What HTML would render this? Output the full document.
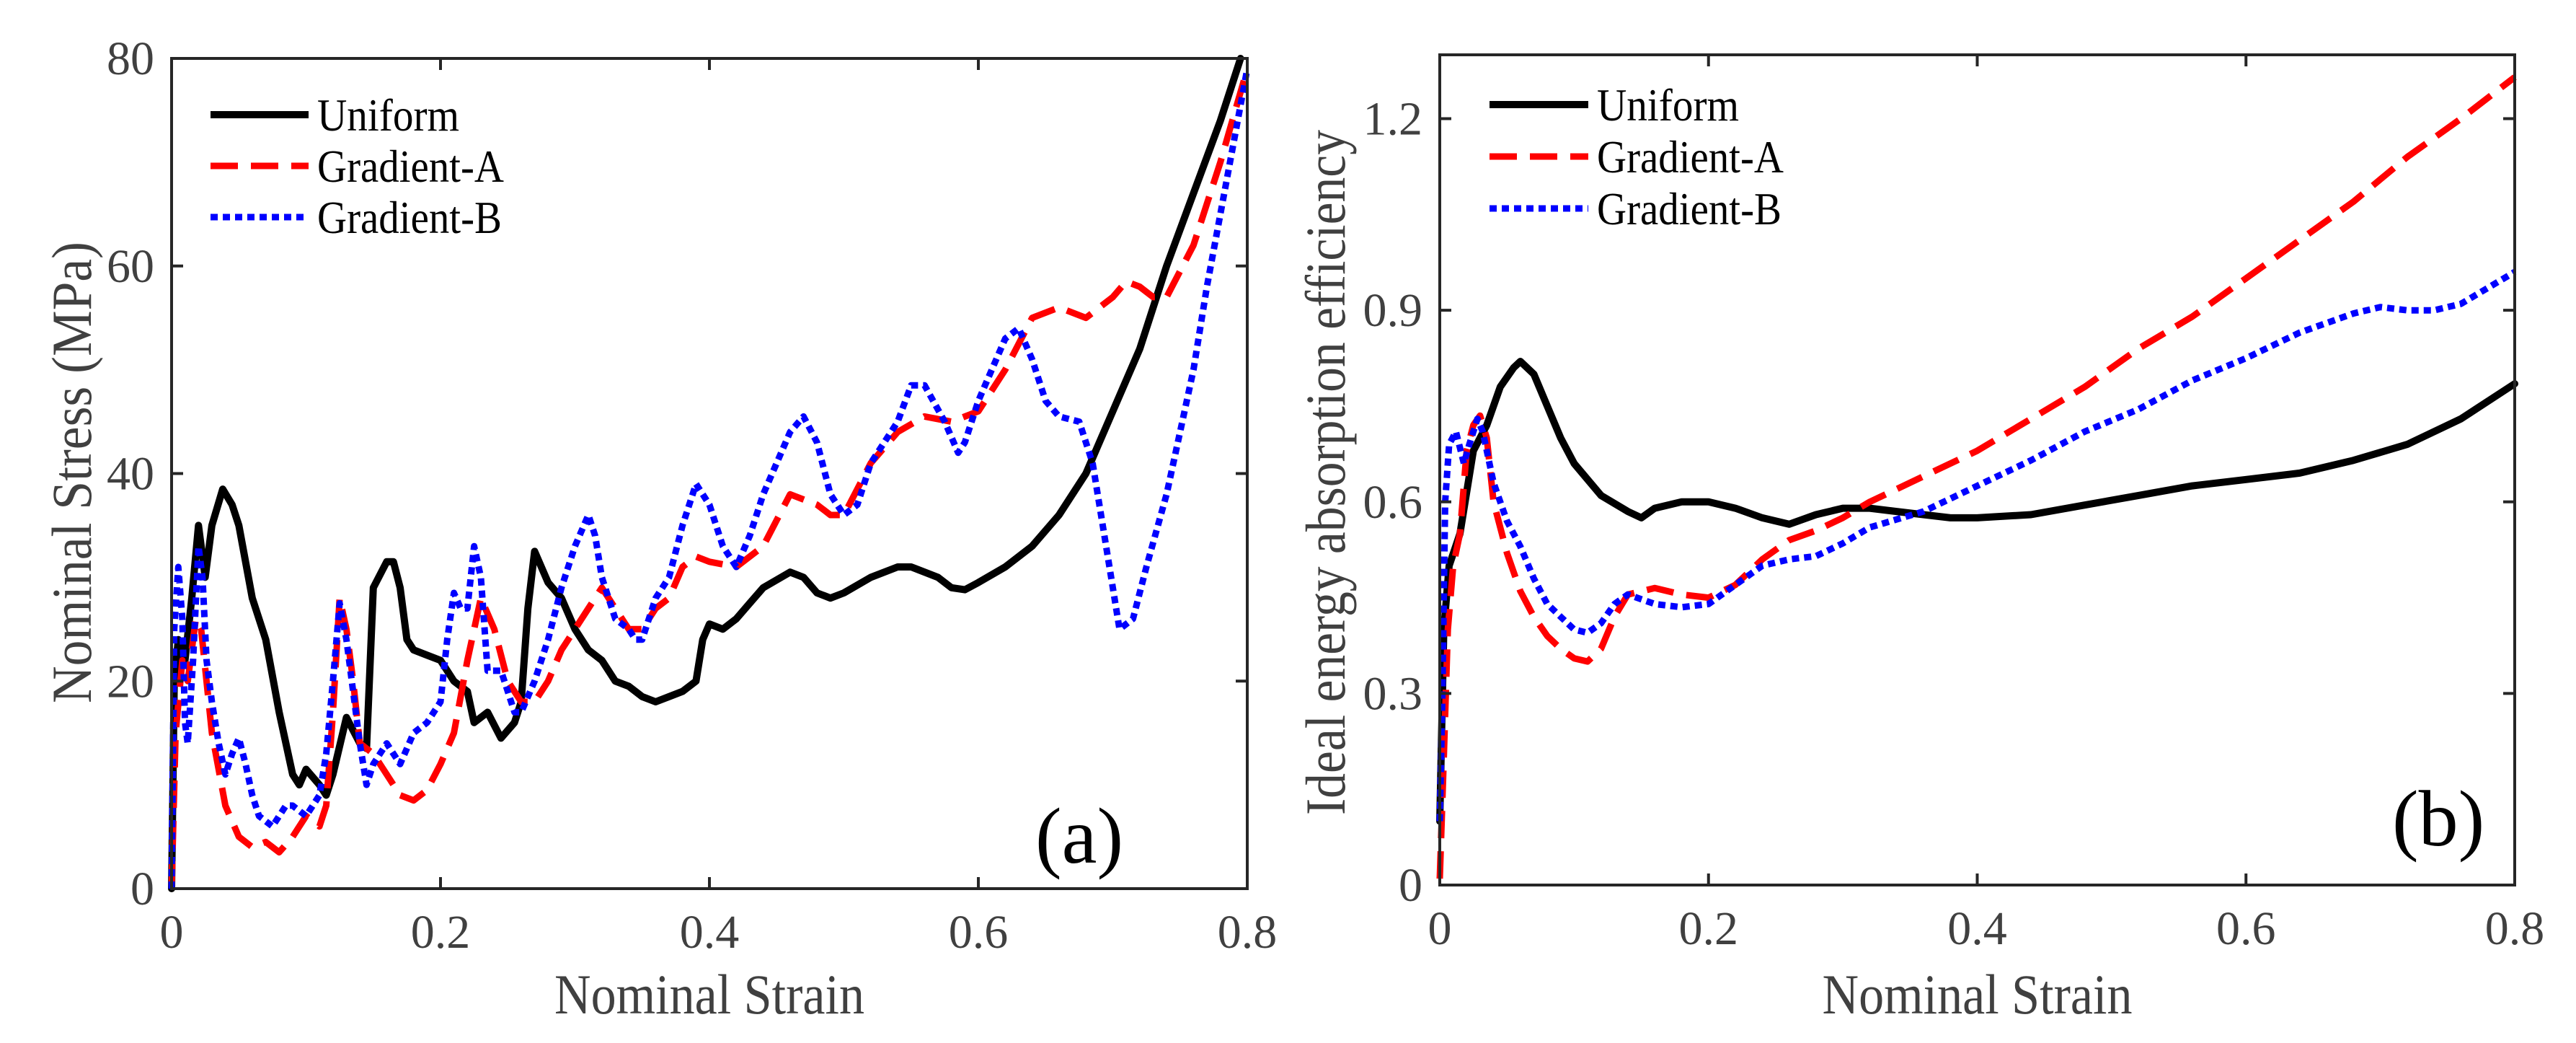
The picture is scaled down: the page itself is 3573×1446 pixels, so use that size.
<!DOCTYPE html>
<html><head><meta charset="utf-8"><style>
html,body{margin:0;padding:0;background:#fff;}
svg{display:block;font-family:"Liberation Serif",serif;}
</style></head><body>
<svg id="fig" width="3573" height="1446" viewBox="0 0 3573 1446" xmlns="http://www.w3.org/2000/svg">
<g id="pa"></g>
<g id="pb"></g>
</svg>
<script>
// Panel (a) data
const aUniX=[0,0.002,0.005,0.01,0.015,0.02,0.025,0.03,0.038,0.045,0.05,0.06,0.07,0.08,0.09,0.095,0.1,0.11,0.115,0.12,0.13,0.14,0.145,0.15,0.16,0.165,0.17,0.175,0.18,0.19,0.2,0.21,0.22,0.225,0.235,0.245,0.255,0.26,0.265,0.27,0.28,0.29,0.3,0.31,0.32,0.33,0.34,0.35,0.36,0.37,0.38,0.39,0.395,0.4,0.41,0.42,0.43,0.44,0.46,0.47,0.48,0.49,0.5,0.52,0.54,0.55,0.56,0.57,0.58,0.59,0.6,0.62,0.64,0.66,0.68,0.7,0.72,0.74,0.76,0.78,0.795];
const aUniY=[0,20,24,22,28,35,30,35,38.5,37,35,28,24,17,11,10,11.5,10,9,11,16.5,14,13.5,29,31.5,31.5,29,24,23,22.5,22,20,19,16,17,14.5,16,18,27,32.5,29.5,28,25,23,22,20,19.5,18.5,18,18.5,19,20,24,25.5,25,26,27.5,29,30.5,30,28.5,28,28.5,30,31,31,30.5,30,29,28.8,29.5,31,33,36,40,46,52,60,67,74,80];
const aGaX=[0,0.003,0.008,0.012,0.018,0.022,0.03,0.04,0.05,0.06,0.07,0.08,0.09,0.1,0.11,0.115,0.12,0.125,0.13,0.135,0.14,0.15,0.16,0.17,0.18,0.19,0.2,0.21,0.22,0.23,0.24,0.25,0.26,0.27,0.28,0.29,0.3,0.31,0.32,0.33,0.34,0.35,0.36,0.37,0.38,0.39,0.4,0.42,0.44,0.46,0.48,0.49,0.5,0.52,0.54,0.56,0.58,0.6,0.62,0.64,0.66,0.68,0.7,0.71,0.72,0.73,0.74,0.76,0.78,0.8];
const aGaY=[0,15,22,20,26,25,15,8,5,4,4.5,3.5,5,7,6,8,17,28,25,20,14,13,11,9,8.5,9.5,12,15,22,28,25,20,18,18,20,23,25,27,29,27,25,25,27,28,31,32,31.5,31,33,38,37,36,36,41,44,45.5,45,46,50,55,56,55,57,58.5,58,57,57,62,70,79];
const aGbX=[0,0.002,0.005,0.008,0.01,0.012,0.016,0.02,0.023,0.026,0.03,0.035,0.04,0.045,0.05,0.055,0.06,0.065,0.075,0.085,0.09,0.1,0.11,0.115,0.12,0.125,0.13,0.135,0.14,0.145,0.15,0.16,0.165,0.17,0.18,0.19,0.2,0.205,0.21,0.215,0.22,0.225,0.23,0.235,0.245,0.25,0.255,0.26,0.27,0.28,0.29,0.3,0.31,0.315,0.32,0.33,0.34,0.345,0.35,0.36,0.37,0.38,0.39,0.4,0.41,0.42,0.43,0.44,0.46,0.47,0.48,0.49,0.5,0.51,0.52,0.54,0.55,0.56,0.575,0.585,0.59,0.6,0.61,0.62,0.63,0.64,0.65,0.66,0.675,0.685,0.695,0.705,0.715,0.725,0.74,0.75,0.76,0.77,0.78,0.79,0.8];
const aGbY=[0,25,31,26,16,14,22,33,30,22,18,14,11,13,14.5,12,9,7,6,8,8,7,9,13,20,27.5,24,19,14,10,12,14,13,12,15,16,18,24,28.5,27,27,33,30,21,21,19,17,17,20,24,29,33,36,34,30,26,25,24,24,28,30,35,39,37,33,31,34,38,44,45.5,43,38,36,37,41,45,48.5,48.5,45,42,43,47,50,53,54,51,47,45.5,45,41,33,25,26,31,38,44,50,58,65,72,79];
const aYTicks=[0,20,40,60,80];
const aXTicks=[0,0.2,0.4,0.6,0.8];
// Panel (b) data
const bUniX=[0,0.003,0.007,0.015,0.025,0.035,0.045,0.055,0.06,0.07,0.08,0.09,0.1,0.12,0.14,0.15,0.16,0.18,0.2,0.22,0.24,0.26,0.28,0.3,0.32,0.34,0.36,0.38,0.4,0.44,0.48,0.52,0.56,0.6,0.64,0.68,0.72,0.76,0.8];
const bUniY=[0.1,0.4,0.5,0.55,0.68,0.72,0.78,0.81,0.82,0.8,0.75,0.7,0.66,0.61,0.585,0.575,0.59,0.6,0.6,0.59,0.575,0.565,0.58,0.59,0.59,0.585,0.58,0.575,0.575,0.58,0.595,0.61,0.625,0.635,0.645,0.665,0.69,0.73,0.785];
const bGaX=[0,0.003,0.006,0.01,0.015,0.02,0.025,0.03,0.035,0.04,0.05,0.06,0.07,0.08,0.09,0.1,0.11,0.12,0.13,0.14,0.16,0.18,0.2,0.22,0.24,0.26,0.28,0.3,0.32,0.36,0.4,0.44,0.48,0.52,0.56,0.6,0.64,0.68,0.72,0.76,0.8];
const bGaY=[0.01,0.2,0.4,0.5,0.55,0.68,0.72,0.735,0.7,0.6,0.52,0.46,0.42,0.39,0.37,0.355,0.35,0.37,0.42,0.455,0.465,0.455,0.45,0.47,0.51,0.54,0.555,0.575,0.6,0.64,0.68,0.73,0.78,0.84,0.89,0.95,1.01,1.07,1.14,1.2,1.265];
const bGbX=[0,0.002,0.004,0.007,0.012,0.018,0.022,0.028,0.032,0.04,0.05,0.06,0.07,0.08,0.09,0.1,0.11,0.12,0.13,0.14,0.16,0.18,0.2,0.22,0.24,0.26,0.28,0.3,0.32,0.36,0.4,0.44,0.48,0.52,0.56,0.6,0.64,0.68,0.7,0.72,0.74,0.76,0.8];
const bGbY=[0.1,0.3,0.6,0.69,0.71,0.66,0.69,0.73,0.71,0.63,0.57,0.53,0.48,0.44,0.42,0.4,0.395,0.41,0.44,0.455,0.44,0.435,0.44,0.47,0.5,0.51,0.515,0.535,0.56,0.585,0.625,0.665,0.71,0.745,0.79,0.825,0.865,0.895,0.905,0.9,0.9,0.91,0.96];
const bYTicks=[0,0.3,0.6,0.9,1.2];
const bYLabels=["0","0.3","0.6","0.9","1.2"];
const bXTicks=[0,0.2,0.4,0.6,0.8];
const seriesNames=["Uniform","Gradient-A","Gradient-B"];

const NS="http://www.w3.org/2000/svg";
function mk(parent,tag,attrs){const e=document.createElementNS(NS,tag);for(const k in attrs)e.setAttribute(k,attrs[k]);parent.appendChild(e);return e;}
const styles=[{stroke:"#000",dash:"none",cap:"round",w:10},{stroke:"#ff0000",dash:"38 18",cap:"butt",w:9},{stroke:"#0000ff",dash:"10 7",cap:"butt",w:9}];
const legW=[197,259,256];

function panel(g,cfg){
  const {L,R,T,B,ymax,yTicks,yLabels,xTicks,series,ytitle,ytx,ytw,tag,tagx,tagy,leg}=cfg;
  const sx=v=>L+v/0.8*(R-L), sy=v=>B-v/ymax*(B-T);
  series.forEach((s,i)=>{
    const d=s.x.map((xv,j)=>(j?"L":"M")+sx(xv).toFixed(1)+" "+sy(s.y[j]).toFixed(1)).join(" ");
    const p=mk(g,"path",{d:d,fill:"none",stroke:styles[i].stroke,"stroke-width":styles[i].w,"stroke-dasharray":styles[i].dash,"stroke-linecap":styles[i].cap,"stroke-linejoin":"round"});
    
    
  });
  const box=mk(g,"rect",{x:L,y:T,width:R-L,height:B-T,fill:"none",stroke:"#262626","stroke-width":4});
  
  
  yTicks.forEach((v,i)=>{
    const y=sy(v);
    const t=mk(g,"path",{d:`M${L} ${y}H${L+16}M${R} ${y}H${R-16}`,stroke:"#262626","stroke-width":4});
    
    
    const tx=mk(g,"text",{x:L-24,y:y+22,"text-anchor":"end","font-size":66,fill:"#404040"});
    tx.textContent=yLabels[i];
    
    
  });
  xTicks.forEach(v=>{
    const x=sx(v);
    const t=mk(g,"path",{d:`M${x} ${B}V${B-16}M${x} ${T}V${T+16}`,stroke:"#262626","stroke-width":4});
    
    
    const tx=mk(g,"text",{x:x,y:B+82,"text-anchor":"middle","font-size":66,fill:"#404040"});
    tx.textContent=String(v);
    
    
  });
  const xt=mk(g,"text",{x:(L+R)/2,y:1405,"text-anchor":"middle","font-size":78,fill:"#404040",textLength:430,lengthAdjust:"spacingAndGlyphs"});
  xt.textContent="Nominal Strain";
  
  
  const yt=mk(g,"text",{x:0,y:0,"text-anchor":"middle","font-size":78,fill:"#404040",textLength:ytw,lengthAdjust:"spacingAndGlyphs",transform:`translate(${ytx},655) rotate(-90)`});
  yt.textContent=ytitle;
  
  
  const tg=mk(g,"text",{x:tagx,y:tagy,"text-anchor":"start","font-size":110,fill:"#000"});
  tg.textContent=tag;
  
  
  seriesNames.forEach((n,i)=>{
    const y=leg.y0+i*leg.dy;
    const ln=mk(g,"path",{d:`M${leg.x1} ${y}H${leg.x2}`,stroke:styles[i].stroke,"stroke-width":styles[i].w,"stroke-dasharray":styles[i].dash});
    
    
    const t=mk(g,"text",{x:leg.x2+12,y:y+22,"font-size":64,fill:"#000",textLength:legW[i],lengthAdjust:"spacingAndGlyphs"});
    t.textContent=n;
    
    
  });
}
panel(document.getElementById("pa"),{L:238,R:1730,T:81,B:1232,ymax:80,yTicks:aYTicks,yLabels:aYTicks.map(String),xTicks:aXTicks,
  series:[{x:aUniX,y:aUniY},{x:aGaX,y:aGaY},{x:aGbX,y:aGbY}],ytitle:"Nominal Stress (MPa)",ytx:126,ytw:640,tag:"(a)",tagx:1436,tagy:1196,
  leg:{x1:292,x2:428,y0:159,dy:71}});
panel(document.getElementById("pb"),{L:1997,R:3488,T:76,B:1227,ymax:1.3,yTicks:bYTicks,yLabels:bYLabels,xTicks:bXTicks,
  series:[{x:bUniX,y:bUniY},{x:bGaX,y:bGaY},{x:bGbX,y:bGbY}],ytitle:"Ideal energy absorption efficiency",ytx:1865,ytw:950,tag:"(b)",tagx:3318,tagy:1172,
  leg:{x1:2066,x2:2203,y0:145,dy:72}});
</script>
</body></html>
